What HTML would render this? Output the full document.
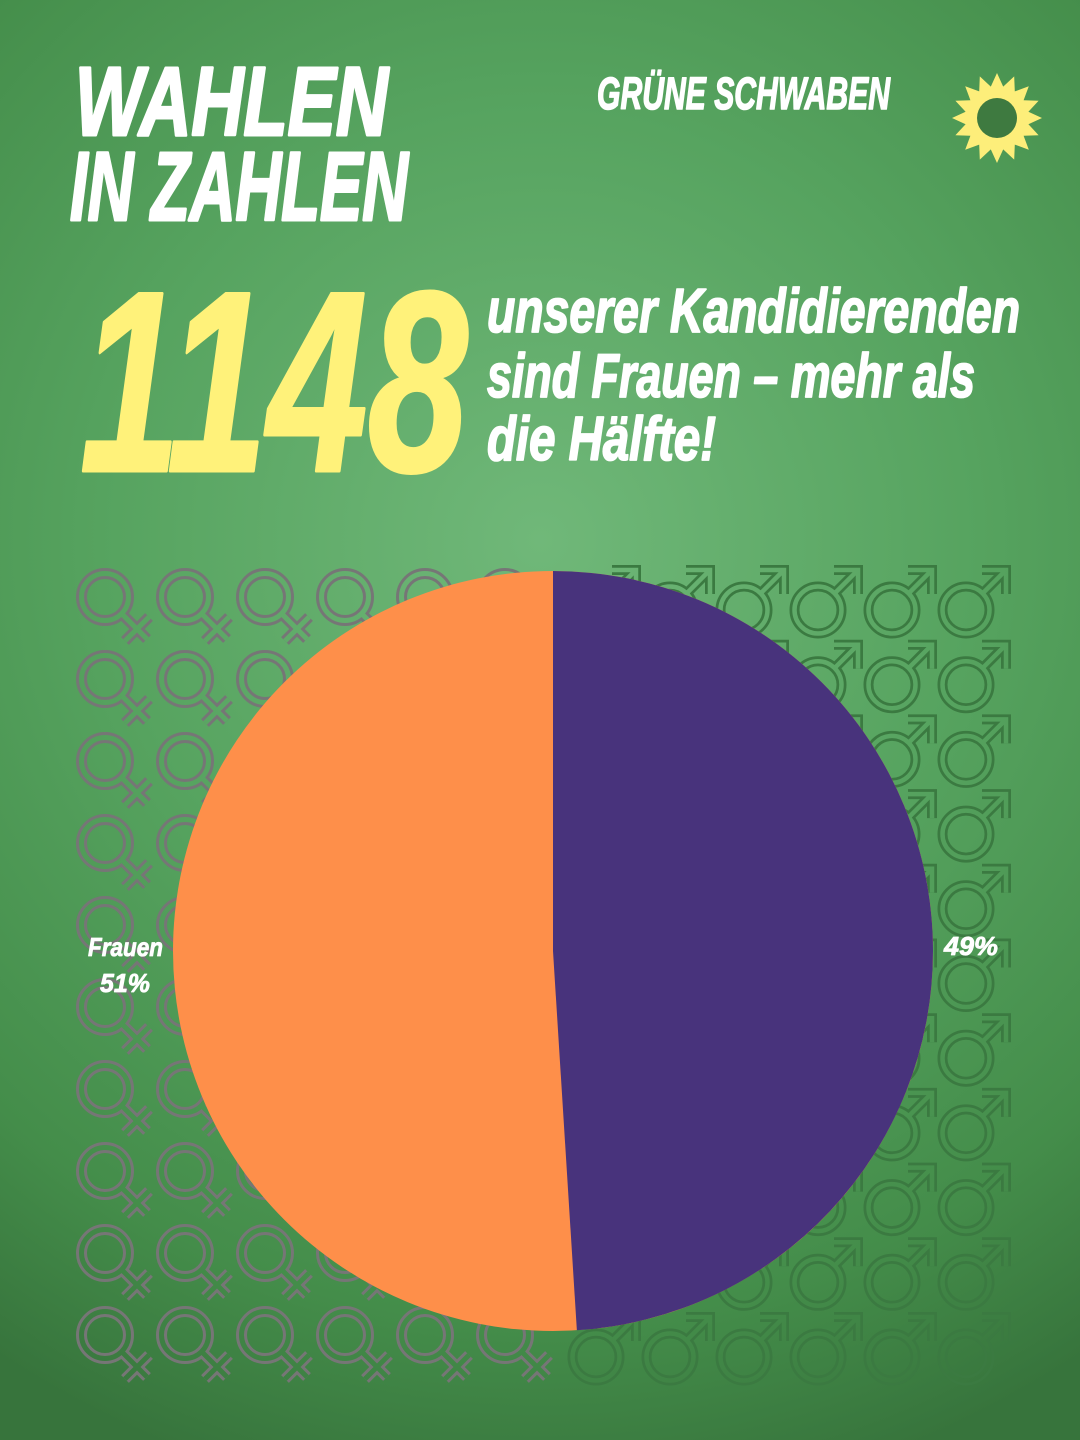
<!DOCTYPE html>
<html><head><meta charset="utf-8"><style>html,body{margin:0;padding:0;width:1080px;height:1440px;overflow:hidden}svg{display:block}</style></head>
<body>
<svg width="1080" height="1440" viewBox="0 0 1080 1440" xmlns="http://www.w3.org/2000/svg">
<defs>
<radialGradient id="bg" cx="540" cy="540" r="980" gradientUnits="userSpaceOnUse">
<stop offset="0" stop-color="#70b879"/>
<stop offset="0.45" stop-color="#56a35f"/>
<stop offset="0.8" stop-color="#448d4a"/>
<stop offset="1" stop-color="#37743c"/>
</radialGradient>
<mask id="mf" maskUnits="userSpaceOnUse" x="-40" y="-40" width="100" height="100">
<rect x="-40" y="-40" width="100" height="100" fill="#fff"/>
<g fill="none" stroke="#000" stroke-width="5">
<circle r="23.5"/>
<path d="M17,17 L42,42 M20,44 L44,20"/>
</g>
</mask>
<g id="fs" mask="url(#mf)">
<g fill="none" stroke="#767676" stroke-width="11">
<circle r="23.5"/>
<path d="M17,17 L42,42 M20,44 L44,20"/>
</g>
</g>
<mask id="mm" maskUnits="userSpaceOnUse" x="-40" y="-60" width="100" height="100">
<rect x="-40" y="-60" width="100" height="100" fill="#fff"/>
<g fill="none" stroke="#000" stroke-width="4.5">
<circle r="23.5"/>
<path d="M17,-17 L39,-39 M16,-40 L40,-40 L40,-16"/>
</g>
</mask>
<g id="ms" mask="url(#mm)">
<g fill="none" stroke="#3b7a41" stroke-width="10">
<circle r="23.5"/>
<path d="M17,-17 L39,-39 M16,-40 L40,-40 L40,-16"/>
</g>
</g>
<g id="fr">
<use href="#fs" x="105"/><use href="#fs" x="185"/><use href="#fs" x="265"/><use href="#fs" x="345"/><use href="#fs" x="425"/><use href="#fs" x="505"/>
</g>
<g id="mr">
<use href="#ms" x="596"/><use href="#ms" x="670"/><use href="#ms" x="744"/><use href="#ms" x="818"/><use href="#ms" x="892"/><use href="#ms" x="966"/>
</g>
</defs>
<rect width="1080" height="1440" fill="url(#bg)"/>
<use href="#fr" y="597"/><use href="#fr" y="679"/><use href="#fr" y="761"/><use href="#fr" y="843"/><use href="#fr" y="925"/>
<use href="#fr" y="1007"/><use href="#fr" y="1089"/><use href="#fr" y="1171"/><use href="#fr" y="1253"/><use href="#fr" y="1335"/>
<use href="#mr" y="610"/><use href="#mr" y="684.7"/><use href="#mr" y="759.4"/><use href="#mr" y="834.1"/><use href="#mr" y="908.8"/><use href="#mr" y="983.5"/>
<use href="#mr" y="1058.2"/><use href="#mr" y="1132.9"/><use href="#mr" y="1207.6"/><use href="#mr" y="1282.3"/><use href="#mr" y="1357"/>
<circle cx="553" cy="951" r="380" fill="#fe8f4a"/>
<path d="M553,951 L553,571 A380,380 0 0 1 933,951 A380,380 0 0 1 576.86,1330.25 Z" fill="#48337c"/>
<g font-family="'Liberation Sans Narrow','Liberation Sans',sans-serif" font-weight="bold" font-style="italic" fill="#fff" stroke="#fff" stroke-linejoin="round">
<text x="75" y="135" font-size="97" stroke-width="3" textLength="313" lengthAdjust="spacingAndGlyphs">WAHLEN</text>
<text x="70" y="220" font-size="97" stroke-width="3" textLength="338" lengthAdjust="spacingAndGlyphs">IN ZAHLEN</text>
<text x="597" y="109" font-size="45" stroke-width="1.5" textLength="293" lengthAdjust="spacingAndGlyphs">GRÜNE SCHWABEN</text>
<text x="80" y="471" font-size="258" fill="#fff27a" stroke="#fff27a" stroke-width="3" textLength="388" lengthAdjust="spacingAndGlyphs">1148</text>
<text x="487" y="332" font-size="62" stroke-width="1.8" textLength="533" lengthAdjust="spacingAndGlyphs">unserer Kandidierenden</text>
<text x="487" y="397" font-size="62" stroke-width="1.8" textLength="488" lengthAdjust="spacingAndGlyphs">sind Frauen – mehr als</text>
<text x="487" y="460" font-size="62" stroke-width="1.8" textLength="229" lengthAdjust="spacingAndGlyphs">die Hälfte!</text>
<text x="88" y="956" font-size="26" stroke-width="0.8" textLength="75" lengthAdjust="spacingAndGlyphs">Frauen</text>
<text x="100" y="992" font-size="26" stroke-width="0.8" textLength="50" lengthAdjust="spacingAndGlyphs">51%</text>
<text x="944" y="955" font-size="26" stroke-width="0.8" textLength="54" lengthAdjust="spacingAndGlyphs">49%</text>
</g>
<polygon fill="#fdee7a" points="1042,118 1028.4,124.2 1038.6,135.2 1023.6,135.8 1028.8,149.8 1014.8,144.6 1014.2,159.6 1003.2,149.4 997,163 990.8,149.4 979.8,159.6 979.2,144.6 965.2,149.8 970.4,135.8 955.4,135.2 965.6,124.2 952,118 965.6,111.8 955.4,100.8 970.4,100.2 965.2,86.2 979.2,91.4 979.8,76.4 990.8,86.6 997,73 1003.2,86.6 1014.2,76.4 1014.8,91.4 1028.8,86.2 1023.6,100.2 1038.6,100.8 1028.4,111.8"/>
<circle cx="997" cy="118" r="20" fill="#3e7a40"/>
</svg>
</body></html>
